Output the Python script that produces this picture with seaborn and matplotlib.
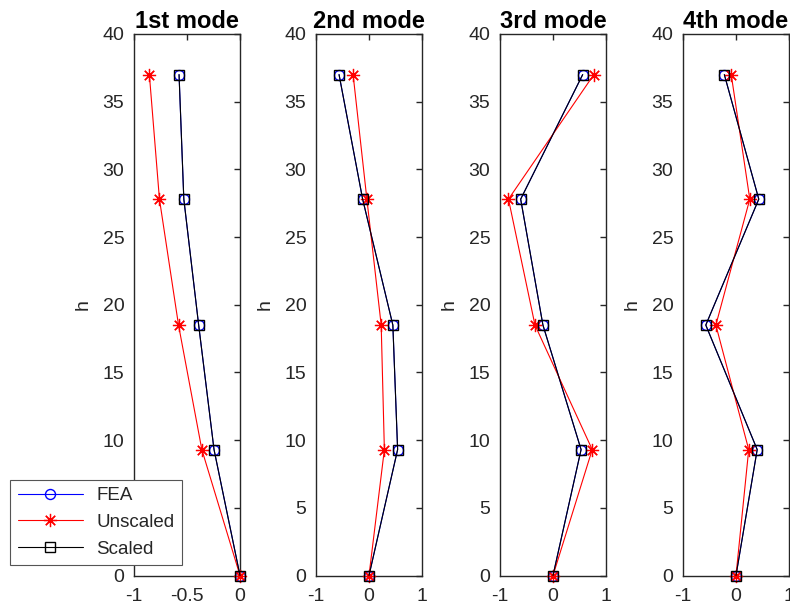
import numpy as np
import pandas as pd
import matplotlib
matplotlib.use("Agg")
import matplotlib.pyplot as plt
import seaborn as sns

# ---------------- data ----------------
heights = [0, 9.3, 18.5, 27.8, 37]
titles = ["1st mode", "2nd mode", "3rd mode", "4th mode"]

fea_1 = [0, -0.245, -0.39, -0.53, -0.575]
unscaled_1 = [0, -0.36, -0.58, -0.76, -0.855]
scaled_1 = [0, -0.245, -0.39, -0.53, -0.575]

fea_2 = [0, 0.54, 0.45, -0.12, -0.565]
unscaled_2 = [0, 0.29, 0.23, -0.04, -0.30]
scaled_2 = [0, 0.54, 0.45, -0.12, -0.565]

fea_3 = [0, 0.53, -0.19, -0.61, 0.56]
unscaled_3 = [0, 0.74, -0.34, -0.84, 0.77]
scaled_3 = [0, 0.53, -0.19, -0.61, 0.56]

fea_4 = [0, 0.40, -0.57, 0.43, -0.22]
unscaled_4 = [0, 0.24, -0.38, 0.26, -0.09]
scaled_4 = [0, 0.40, -0.57, 0.43, -0.22]

xticks_1 = [-1, -0.5, 0]
xticklabels_1 = ["-1", "-0.5", "0"]
xticks_other = [-1, 0, 1]
xticklabels_other = ["-1", "0", "1"]
yticks = [0, 5, 10, 15, 20, 25, 30, 35, 40]
yticklabels = ["0", "5", "10", "15", "20", "25", "30", "35", "40"]
series_labels = ["FEA", "Unscaled", "Scaled"]

modes = [
    (fea_1, unscaled_1, scaled_1),
    (fea_2, unscaled_2, scaled_2),
    (fea_3, unscaled_3, scaled_3),
    (fea_4, unscaled_4, scaled_4),
]

# ---------------- style ----------------
sns.set_style("white")
plt.rcParams["font.family"] = ["Liberation Sans", "DejaVu Sans"]
plt.rcParams["axes.edgecolor"] = "#262626"
plt.rcParams["axes.linewidth"] = 1.0
plt.rcParams["text.color"] = "#262626"
plt.rcParams["axes.labelcolor"] = "#262626"

W, H = 790, 611
fig = plt.figure(figsize=(W / 100, H / 100), dpi=100)

lefts_px = [134, 316, 500, 683]
width_px = 106
top_px, bottom_px = 34, 575.5

styles = [
    dict(color="#0000FF", marker="o", markersize=7.2, markerfacecolor="none",
         markeredgecolor="#0000FF", markeredgewidth=1.0, linewidth=0.8),
    dict(color="#FF0000", marker=(8, 2, 0), markersize=9.5, markerfacecolor="none",
         markeredgecolor="#FF0000", markeredgewidth=0.9, linewidth=0.8),
    dict(color="#000000", marker="s", markersize=6.5, markerfacecolor="none",
         markeredgecolor="#000000", markeredgewidth=1.0, linewidth=0.8),
]

axes = []
for i, (lp, title, vals) in enumerate(zip(lefts_px, titles, modes)):
    ax = fig.add_axes([lp / W, (H - bottom_px) / H, width_px / W, (bottom_px - top_px) / H])
    axes.append(ax)
    for v, st, lab in zip(vals, styles, series_labels):
        df = pd.DataFrame({"x": v, "h": heights})
        sns.lineplot(data=df, x="x", y="h", sort=False, estimator=None, ax=ax,
                     label=lab, clip_on=False, **st)
    if ax.get_legend() is not None:
        ax.get_legend().remove()
    if i == 0:
        ax.set_xlim(-1, 0)
        ax.set_xticks(xticks_1)
        ax.set_xticklabels(xticklabels_1)
    else:
        ax.set_xlim(-1, 1)
        ax.set_xticks(xticks_other)
        ax.set_xticklabels(xticklabels_other)
    ax.set_ylim(0, 40)
    ax.set_yticks(yticks)
    ax.set_yticklabels(yticklabels)
    ax.set_xlabel("")
    ax.set_ylabel("h", fontsize=14, labelpad=8)
    ax.set_title(title, fontsize=17, fontweight="bold", color="black", pad=4)
    ax.tick_params(axis="both", which="both", direction="in", length=4, width=1.0,
                   top=True, right=True, labelsize=14, colors="#262626")
    ax.tick_params(axis="y", pad=7)
    ax.tick_params(axis="x", pad=9)
    for s in ax.spines.values():
        s.set_visible(True)
        s.set_color("#262626")
        s.set_linewidth(1.0)
        s.set_zorder(1)

handles, labels = axes[0].get_legend_handles_labels()
leg = fig.legend(handles, labels, loc="lower left",
                 bbox_to_anchor=(10 / W, (H - 565) / H), bbox_transform=fig.transFigure,
                 fontsize=13.5, frameon=True, fancybox=False, framealpha=1,
                 edgecolor="#555555", borderaxespad=0, handlelength=3.5,
                 labelspacing=0.5, borderpad=0.4, handletextpad=0.7)
leg.get_frame().set_linewidth(0.8)

fig.savefig("out.png", dpi=100)
